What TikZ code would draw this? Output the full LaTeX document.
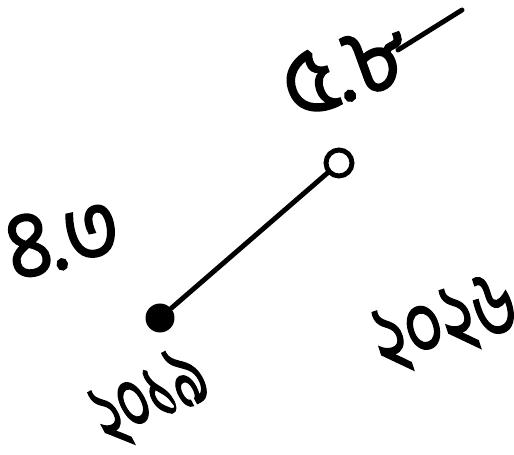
\documentclass[tikz,border=0pt]{standalone}
\usepackage{fontspec}
\newfontfamily\bn[Script=Bengali, FakeBold=1.6]{Hind Siliguri}
\usetikzlibrary{positioning}

\begin{document}
\begin{tikzpicture}[
        x=0.02cm, y=-0.02cm,
        seg/.style={line width=2.8pt, black, line cap=round},
        val/.style={font=\bn\fontsize{54}{54}\selectfont, inner sep=0pt},
        closedpt/.style={circle, fill=black, minimum size=0.58cm, inner sep=0pt},
        openpt/.style={circle, draw=black, line width=2.8pt, fill=white, minimum size=0.52cm, inner sep=0pt}
    ]
    \fill[white] (0,0) rectangle (514,455);
    \useasboundingbox (0,0) rectangle (514,455);

    % end points of the segment
    \node[closedpt] (start) at (160,318) {};
    \node[openpt] (end) at (339,163) {};
    \draw[seg] (start) -- (end);

    % values and years
    \node[val, rotate=20, xscale=0.95] (high) at (346,70) {৫.৮};
    \node[val, rotate=12, xscale=0.9] (low) at (63,238) {৪.৩};
    \node[val, rotate=28, xscale=0.56] (from) at (150,398) {২০১৯};
    \node[val, rotate=18, xscale=0.7] (to) at (445,324) {২০২৬};

    \coordinate (flick) at (398,50);
    \coordinate (tail) at (462,10);
    \draw[seg] (flick) -- (tail);
\end{tikzpicture}
\end{document}
